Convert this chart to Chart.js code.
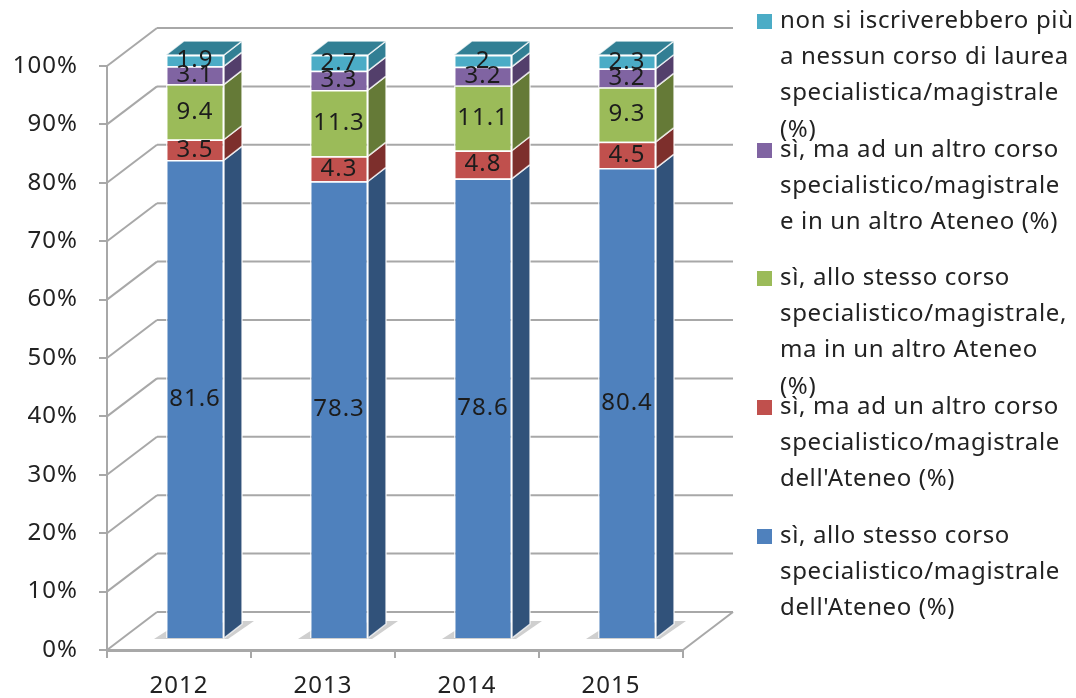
<!DOCTYPE html>
<html>
<head>
<meta charset="utf-8">
<title>Chart</title>
<script src="https://cdn.jsdelivr.net/npm/chart.js@4"></script>
<style>
  html, body { margin: 0; padding: 0; background: #fff; }
  canvas { display: block; filter: blur(0.6px); }
</style>
</head>
<body>
<canvas id="chart" width="1076" height="698"></canvas>
<script>
const years = ['2012', '2013', '2014', '2015'];

const stessoCorso = [81.6, 78.3, 78.6, 80.4];
const altroCorso = [3.5, 4.3, 4.8, 4.5];
const altroAteneo = [9.4, 11.3, 11.1, 9.3];
const altroCorsoAteneo = [3.1, 3.3, 3.2, 3.2];
const nessuno = [1.9, 2.7, 2, 2.3];

const legendLines = [
  ["sì, allo stesso corso", "specialistico/magistrale", "dell'Ateneo (%)"],
  ["sì, ma ad un altro corso", "specialistico/magistrale", "dell'Ateneo (%)"],
  ["sì, allo stesso corso", "specialistico/magistrale,", "ma in un altro Ateneo", "(%)"],
  ["sì, ma ad un altro corso", "specialistico/magistrale", "e in un altro Ateneo (%)"],
  ["non si iscriverebbero più", "a nessun corso di laurea", "specialistica/magistrale", "(%)"]
];
const legendTops = [536, 407, 278, 150, 21];

const series = [stessoCorso, altroCorso, altroAteneo, altroCorsoAteneo, nessuno];
const fronts = ['#4f81bd', '#c0504d', '#9bbb59', '#8064a2', '#4bacc6'];
const sides = ['#31527a', '#7d2f2c', '#657a37', '#533f6b', '#327f94'];

const FONT = '"Noto Sans"';
const wall = { dx: 50, dy: -38 };    // front plane to back wall
const barShift = { dx: 16, dy: -11 };
const depth = { dx: 18, dy: -14 };   // depth of one bar
const gridColor = '#a8a8a8';

// the chart is 100% stacked, so each year is scaled on its own total
const totals = years.map((y, i) => series.reduce((sum, s) => sum + s[i], 0));

function poly(ctx, pts, fill, stroke) {
  ctx.beginPath();
  pts.forEach((p, i) => i ? ctx.lineTo(p[0], p[1]) : ctx.moveTo(p[0], p[1]));
  ctx.closePath();
  ctx.fillStyle = fill;
  ctx.fill();
  if (stroke) {
    ctx.strokeStyle = stroke;
    ctx.lineWidth = 1.5;
    ctx.stroke();
  }
}

function line(ctx, x1, y1, x2, y2) {
  ctx.beginPath();
  ctx.moveTo(x1, y1);
  ctx.lineTo(x2, y2);
  ctx.stroke();
}

const box3d = {
  id: 'box3d',
  beforeDraw(chart) {
    chart.ctx.letterSpacing = '1px';
  },
  beforeDatasetsDraw(chart) {
    const ctx = chart.ctx;
    const { left, right } = chart.chartArea;
    const y = chart.scales.y;

    ctx.save();
    ctx.strokeStyle = gridColor;
    ctx.lineWidth = 2;
    y.ticks.forEach(t => {
      const py = y.getPixelForValue(t.value);
      line(ctx, left, py, left + wall.dx, py + wall.dy);
      line(ctx, left + wall.dx, py + wall.dy, right + wall.dx, py + wall.dy);
    });
    const y0 = y.getPixelForValue(0);
    line(ctx, right, y0, right + wall.dx, y0 + wall.dy);

    // shadows on the floor
    chart.getDatasetMeta(0).data.forEach(bar => {
      const l = bar.x - bar.width / 2 + barShift.dx;
      const r = bar.x + bar.width / 2 + barShift.dx;
      const b = bar.base + barShift.dy;
      poly(ctx, [[l - 12, b + 1], [r + 4, b + 1], [r + 30, b - 17], [r + 10, b - 17], [l + 2, b - 8]], '#cfcfcf');
    });
    ctx.restore();

    // the bars sit a little behind the front plane
    ctx.save();
    ctx.translate(barShift.dx, barShift.dy);
  },
  afterDatasetsDraw(chart) {
    const ctx = chart.ctx;
    const last = series.length - 1;

    series.forEach((s, d) => {
      chart.getDatasetMeta(d).data.forEach(bar => {
        const r = bar.x + bar.width / 2;
        poly(ctx, [[r, bar.y], [r + depth.dx, bar.y + depth.dy], [r + depth.dx, bar.base + depth.dy], [r, bar.base]], sides[d], 'rgba(255,255,255,0.75)');
        if (d === last) {
          const l = bar.x - bar.width / 2;
          poly(ctx, [[l, bar.y], [l + depth.dx, bar.y + depth.dy], [r + depth.dx, bar.y + depth.dy], [r, bar.y]], sides[d], 'rgba(255,255,255,0.75)');
        }
      });
    });

    ctx.font = '24px ' + FONT;
    ctx.fillStyle = '#1c1c1c';
    ctx.textAlign = 'center';
    ctx.textBaseline = 'middle';
    series.forEach((s, d) => {
      chart.getDatasetMeta(d).data.forEach((bar, i) => {
        ctx.fillText(String(s[i]), bar.x, (bar.y + bar.base) / 2);
      });
    });
    ctx.restore();
  },
  afterDraw(chart) {
    const ctx = chart.ctx;
    ctx.save();
    ctx.font = '24px ' + FONT;
    ctx.letterSpacing = '0.65px';
    ctx.textAlign = 'left';
    ctx.textBaseline = 'middle';
    legendLines.forEach((lines, d) => {
      const top = legendTops[d];
      ctx.fillStyle = fronts[d];
      ctx.fillRect(757, top - 7, 15, 15);
      ctx.fillStyle = '#222';
      lines.forEach((txt, n) => ctx.fillText(txt, 780, top + n * 36.3));
    });
    ctx.restore();
  }
};

new Chart(document.getElementById('chart'), {
  type: 'bar',
  data: {
    labels: years,
    datasets: series.map((s, d) => ({
      label: legendLines[d].join(' '),
      data: s.map((v, i) => v / totals[i] * 100),
      backgroundColor: fronts[d],
      borderColor: 'rgba(255,255,255,0.75)',
      borderWidth: 1.5,
      categoryPercentage: 1,
      barPercentage: 0.403
    }))
  },
  options: {
    responsive: false,
    animation: false,
    layout: { padding: { top: 66, right: 393 } },
    plugins: { legend: { display: false }, tooltip: { enabled: false } },
    scales: {
      x: {
        stacked: true,
        afterFit: scale => { scale.height = 48; },
        border: { color: gridColor, width: 3 },
        grid: { drawOnChartArea: false, color: gridColor, tickLength: 8, lineWidth: 2 },
        ticks: { color: '#222', font: { family: FONT, size: 24 }, padding: 14 }
      },
      y: {
        stacked: true,
        min: 0,
        max: 100,
        afterFit: scale => { scale.width = 107; },
        border: { color: gridColor, width: 2 },
        grid: { drawOnChartArea: false, color: gridColor, tickLength: 8, lineWidth: 2 },
        ticks: {
          stepSize: 10,
          color: '#222',
          font: { family: FONT, size: 24 },
          padding: 21,
          callback: v => v + '%'
        }
      }
    }
  },
  plugins: [box3d]
});
</script>
</body>
</html>
